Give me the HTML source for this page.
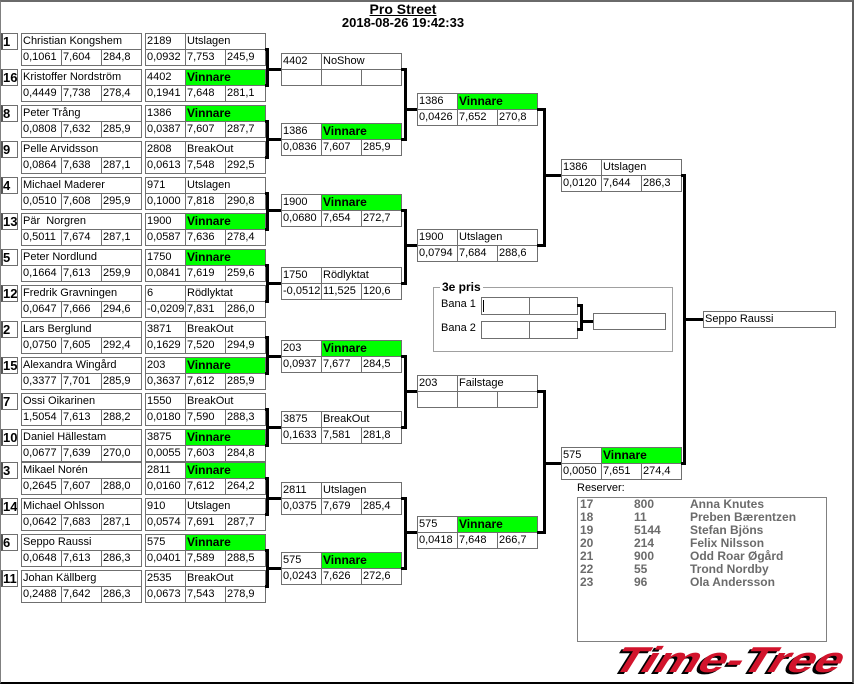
<!DOCTYPE html>
<html><head><meta charset="utf-8">
<style>
html,body{margin:0;padding:0;background:#fff;}
body{width:854px;height:684px;position:relative;overflow:hidden;font-family:"Liberation Sans",Arial,sans-serif;font-size:11px;color:#000;}
.frame{position:absolute;left:0;top:0;width:854px;height:684px;box-sizing:border-box;border-top:2px solid #6a6a6a;border-left:1px solid #808080;border-right:2px solid #5f5f5f;border-bottom:2px solid #000;}
.e,.bx{position:absolute;left:0;width:1px;height:1px;}
.c{position:absolute;box-sizing:border-box;height:17px;top:0;border:1px solid #6f6f6f;background:#fff;line-height:15px;padding-left:1px;white-space:nowrap;overflow:hidden;font-size:11px;}
.s{left:1px;width:17px;border-left:2px solid #555;font-weight:bold;font-size:13px;padding-left:0;}
.nm{left:21px;width:121px;}
.a{width:41px;}.b{width:81px;}
.lo{top:16px;}
.t1{left:21px}.t2{left:61px}.t3{left:101px}
.r1{left:145px}.r2{left:185px}.r3{left:225px}
.k1{left:0}.k2{left:40px}.k3{left:80px}
.g{background:#00ff00;font-weight:bold;font-size:12px;}
.title{position:absolute;left:0;width:806px;text-align:center;font-weight:bold;}
.res{position:absolute;font-weight:bold;font-size:12px;color:#6b6b6b;line-height:13px;}
</style></head><body>
<div class="frame"></div>
<div class="title" style="top:1px;font-size:14px;text-decoration:underline;line-height:16px;">Pro Street</div>
<div class="title" style="top:15px;font-size:13px;line-height:16px;">2018-08-26 19:42:33</div>

<!-- Round 1 -->
<div class="e" style="top:33px">
<div class="c s">1</div><div class="c nm">Christian Kongshem</div>
<div class="c a t1 lo">0,1061</div><div class="c a t2 lo">7,604</div><div class="c a t3 lo">284,8</div>
<div class="c a r1">2189</div><div class="c b r2">Utslagen</div>
<div class="c a r1 lo">0,0932</div><div class="c a r2 lo">7,753</div><div class="c a r3 lo">245,9</div>
</div>
<div class="e" style="top:69px">
<div class="c s">16</div><div class="c nm">Kristoffer Nordström</div>
<div class="c a t1 lo">0,4449</div><div class="c a t2 lo">7,738</div><div class="c a t3 lo">278,4</div>
<div class="c a r1">4402</div><div class="c b r2 g">Vinnare</div>
<div class="c a r1 lo">0,1941</div><div class="c a r2 lo">7,648</div><div class="c a r3 lo">281,1</div>
</div>
<div class="e" style="top:105px">
<div class="c s">8</div><div class="c nm">Peter Trång</div>
<div class="c a t1 lo">0,0808</div><div class="c a t2 lo">7,632</div><div class="c a t3 lo">285,9</div>
<div class="c a r1">1386</div><div class="c b r2 g">Vinnare</div>
<div class="c a r1 lo">0,0387</div><div class="c a r2 lo">7,607</div><div class="c a r3 lo">287,7</div>
</div>
<div class="e" style="top:141px">
<div class="c s">9</div><div class="c nm">Pelle Arvidsson</div>
<div class="c a t1 lo">0,0864</div><div class="c a t2 lo">7,638</div><div class="c a t3 lo">287,1</div>
<div class="c a r1">2808</div><div class="c b r2">BreakOut</div>
<div class="c a r1 lo">0,0613</div><div class="c a r2 lo">7,548</div><div class="c a r3 lo">292,5</div>
</div>
<div class="e" style="top:177px">
<div class="c s">4</div><div class="c nm">Michael Maderer</div>
<div class="c a t1 lo">0,0510</div><div class="c a t2 lo">7,608</div><div class="c a t3 lo">295,9</div>
<div class="c a r1">971</div><div class="c b r2">Utslagen</div>
<div class="c a r1 lo">0,1000</div><div class="c a r2 lo">7,818</div><div class="c a r3 lo">290,8</div>
</div>
<div class="e" style="top:213px">
<div class="c s">13</div><div class="c nm">Pär&nbsp; Norgren</div>
<div class="c a t1 lo">0,5011</div><div class="c a t2 lo">7,674</div><div class="c a t3 lo">287,1</div>
<div class="c a r1">1900</div><div class="c b r2 g">Vinnare</div>
<div class="c a r1 lo">0,0587</div><div class="c a r2 lo">7,636</div><div class="c a r3 lo">278,4</div>
</div>
<div class="e" style="top:249px">
<div class="c s">5</div><div class="c nm">Peter Nordlund</div>
<div class="c a t1 lo">0,1664</div><div class="c a t2 lo">7,613</div><div class="c a t3 lo">259,9</div>
<div class="c a r1">1750</div><div class="c b r2 g">Vinnare</div>
<div class="c a r1 lo">0,0841</div><div class="c a r2 lo">7,619</div><div class="c a r3 lo">259,6</div>
</div>
<div class="e" style="top:285px">
<div class="c s">12</div><div class="c nm">Fredrik Gravningen</div>
<div class="c a t1 lo">0,0647</div><div class="c a t2 lo">7,666</div><div class="c a t3 lo">294,6</div>
<div class="c a r1">6</div><div class="c b r2">Rödlyktat</div>
<div class="c a r1 lo">-0,0209</div><div class="c a r2 lo">7,831</div><div class="c a r3 lo">286,0</div>
</div>
<div class="e" style="top:321px">
<div class="c s">2</div><div class="c nm">Lars Berglund</div>
<div class="c a t1 lo">0,0750</div><div class="c a t2 lo">7,605</div><div class="c a t3 lo">292,4</div>
<div class="c a r1">3871</div><div class="c b r2">BreakOut</div>
<div class="c a r1 lo">0,1629</div><div class="c a r2 lo">7,520</div><div class="c a r3 lo">294,9</div>
</div>
<div class="e" style="top:357px">
<div class="c s">15</div><div class="c nm">Alexandra Wingård</div>
<div class="c a t1 lo">0,3377</div><div class="c a t2 lo">7,701</div><div class="c a t3 lo">285,9</div>
<div class="c a r1">203</div><div class="c b r2 g">Vinnare</div>
<div class="c a r1 lo">0,3637</div><div class="c a r2 lo">7,612</div><div class="c a r3 lo">285,9</div>
</div>
<div class="e" style="top:393px">
<div class="c s">7</div><div class="c nm">Ossi Oikarinen</div>
<div class="c a t1 lo">1,5054</div><div class="c a t2 lo">7,613</div><div class="c a t3 lo">288,2</div>
<div class="c a r1">1550</div><div class="c b r2">BreakOut</div>
<div class="c a r1 lo">0,0180</div><div class="c a r2 lo">7,590</div><div class="c a r3 lo">288,3</div>
</div>
<div class="e" style="top:429px">
<div class="c s">10</div><div class="c nm">Daniel Hällestam</div>
<div class="c a t1 lo">0,0677</div><div class="c a t2 lo">7,639</div><div class="c a t3 lo">270,0</div>
<div class="c a r1">3875</div><div class="c b r2 g">Vinnare</div>
<div class="c a r1 lo">0,0055</div><div class="c a r2 lo">7,603</div><div class="c a r3 lo">284,8</div>
</div>
<div class="e" style="top:462px">
<div class="c s">3</div><div class="c nm">Mikael Norén</div>
<div class="c a t1 lo">0,2645</div><div class="c a t2 lo">7,607</div><div class="c a t3 lo">288,0</div>
<div class="c a r1">2811</div><div class="c b r2 g">Vinnare</div>
<div class="c a r1 lo">0,0160</div><div class="c a r2 lo">7,612</div><div class="c a r3 lo">264,2</div>
</div>
<div class="e" style="top:498px">
<div class="c s">14</div><div class="c nm">Michael Ohlsson</div>
<div class="c a t1 lo">0,0642</div><div class="c a t2 lo">7,683</div><div class="c a t3 lo">287,1</div>
<div class="c a r1">910</div><div class="c b r2">Utslagen</div>
<div class="c a r1 lo">0,0574</div><div class="c a r2 lo">7,691</div><div class="c a r3 lo">287,7</div>
</div>
<div class="e" style="top:534px">
<div class="c s">6</div><div class="c nm">Seppo Raussi</div>
<div class="c a t1 lo">0,0648</div><div class="c a t2 lo">7,613</div><div class="c a t3 lo">286,3</div>
<div class="c a r1">575</div><div class="c b r2 g">Vinnare</div>
<div class="c a r1 lo">0,0401</div><div class="c a r2 lo">7,589</div><div class="c a r3 lo">288,5</div>
</div>
<div class="e" style="top:570px">
<div class="c s">11</div><div class="c nm">Johan Källberg</div>
<div class="c a t1 lo">0,2488</div><div class="c a t2 lo">7,642</div><div class="c a t3 lo">286,3</div>
<div class="c a r1">2535</div><div class="c b r2">BreakOut</div>
<div class="c a r1 lo">0,0673</div><div class="c a r2 lo">7,543</div><div class="c a r3 lo">278,9</div>
</div>

<!-- Round 2 -->
<div class="bx" style="left:281px;top:53px">
<div class="c a k1">4402</div><div class="c b k2">NoShow</div>
<div class="c a k1 lo"></div><div class="c a k2 lo"></div><div class="c a k3 lo"></div>
</div>
<div class="bx" style="left:281px;top:123px">
<div class="c a k1">1386</div><div class="c b k2 g">Vinnare</div>
<div class="c a k1 lo">0,0836</div><div class="c a k2 lo">7,607</div><div class="c a k3 lo">285,9</div>
</div>
<div class="bx" style="left:281px;top:194px">
<div class="c a k1">1900</div><div class="c b k2 g">Vinnare</div>
<div class="c a k1 lo">0,0680</div><div class="c a k2 lo">7,654</div><div class="c a k3 lo">272,7</div>
</div>
<div class="bx" style="left:281px;top:267px">
<div class="c a k1">1750</div><div class="c b k2">Rödlyktat</div>
<div class="c a k1 lo">-0,0512</div><div class="c a k2 lo">11,525</div><div class="c a k3 lo">120,6</div>
</div>
<div class="bx" style="left:281px;top:340px">
<div class="c a k1">203</div><div class="c b k2 g">Vinnare</div>
<div class="c a k1 lo">0,0937</div><div class="c a k2 lo">7,677</div><div class="c a k3 lo">284,5</div>
</div>
<div class="bx" style="left:281px;top:411px">
<div class="c a k1">3875</div><div class="c b k2">BreakOut</div>
<div class="c a k1 lo">0,1633</div><div class="c a k2 lo">7,581</div><div class="c a k3 lo">281,8</div>
</div>
<div class="bx" style="left:281px;top:482px">
<div class="c a k1">2811</div><div class="c b k2">Utslagen</div>
<div class="c a k1 lo">0,0375</div><div class="c a k2 lo">7,679</div><div class="c a k3 lo">285,4</div>
</div>
<div class="bx" style="left:281px;top:552px">
<div class="c a k1">575</div><div class="c b k2 g">Vinnare</div>
<div class="c a k1 lo">0,0243</div><div class="c a k2 lo">7,626</div><div class="c a k3 lo">272,6</div>
</div>

<!-- Round 3 -->
<div class="bx" style="left:417px;top:93px">
<div class="c a k1">1386</div><div class="c b k2 g">Vinnare</div>
<div class="c a k1 lo">0,0426</div><div class="c a k2 lo">7,652</div><div class="c a k3 lo">270,8</div>
</div>
<div class="bx" style="left:417px;top:229px">
<div class="c a k1">1900</div><div class="c b k2">Utslagen</div>
<div class="c a k1 lo">0,0794</div><div class="c a k2 lo">7,684</div><div class="c a k3 lo">288,6</div>
</div>
<div class="bx" style="left:417px;top:375px">
<div class="c a k1">203</div><div class="c b k2">Failstage</div>
<div class="c a k1 lo"></div><div class="c a k2 lo"></div><div class="c a k3 lo"></div>
</div>
<div class="bx" style="left:417px;top:516px">
<div class="c a k1">575</div><div class="c b k2 g">Vinnare</div>
<div class="c a k1 lo">0,0418</div><div class="c a k2 lo">7,648</div><div class="c a k3 lo">266,7</div>
</div>

<!-- Round 4 -->
<div class="bx" style="left:561px;top:159px">
<div class="c a k1">1386</div><div class="c b k2">Utslagen</div>
<div class="c a k1 lo">0,0120</div><div class="c a k2 lo">7,644</div><div class="c a k3 lo">286,3</div>
</div>
<div class="bx" style="left:561px;top:447px">
<div class="c a k1">575</div><div class="c b k2 g">Vinnare</div>
<div class="c a k1 lo">0,0050</div><div class="c a k2 lo">7,651</div><div class="c a k3 lo">274,4</div>
</div>

<!-- Winner -->
<div class="c" style="left:703px;top:311px;width:133px;height:17px;">Seppo Raussi</div>

<!-- 3e pris -->
<div style="position:absolute;left:433px;top:287px;width:240px;height:65px;box-sizing:border-box;border:1px solid #a0a0a0;"></div>
<div style="position:absolute;left:440px;top:280px;padding:0 2px;background:#fff;font-weight:bold;font-size:12px;line-height:15px;">3e pris</div>
<div style="position:absolute;left:441px;top:297px;line-height:15px;font-size:11px;">Bana 1</div>
<div style="position:absolute;left:441px;top:321px;line-height:15px;font-size:11px;">Bana 2</div>
<div class="c" style="left:481px;top:297px;width:49px;height:18px;"></div>
<div class="c" style="left:529px;top:297px;width:49px;height:18px;"></div>
<div class="c" style="left:481px;top:321px;width:49px;height:18px;"></div>
<div class="c" style="left:529px;top:321px;width:49px;height:18px;"></div>
<div style="position:absolute;left:483px;top:300px;width:1px;height:12px;background:#000;"></div>
<div class="c" style="left:593px;top:313px;width:73px;height:17px;"></div>

<!-- Reserves -->
<div style="position:absolute;left:577px;top:481px;font-size:11px;line-height:14px;">Reserver:</div>
<div style="position:absolute;left:577px;top:497px;width:250px;height:145px;box-sizing:border-box;border:1px solid #808080;"></div>
<div class="res" style="left:580px;top:498px;">17<br>18<br>19<br>20<br>21<br>22<br>23</div>
<div class="res" style="left:634px;top:498px;">800<br>11<br>5144<br>214<br>900<br>55<br>96</div>
<div class="res" style="left:690px;top:498px;">Anna Knutes<br>Preben Bærentzen<br>Stefan Bjöns<br>Felix Nilsson<br>Odd Roar Øgård<br>Trond Nordby<br>Ola Andersson</div>

<!-- connectors -->
<svg style="position:absolute;left:0;top:0;" width="854" height="684">
<g fill="none" stroke="#000" stroke-width="3" stroke-linejoin="miter">
<path d="M265 49.5H267.5V85.5H265M267.5 69.5H281"/>
<path d="M265 121.5H267.5V157.5H265M267.5 139.5H281"/>
<path d="M265 193.5H267.5V229.5H265M267.5 210.5H281"/>
<path d="M265 265.5H267.5V301.5H265M267.5 283.5H281"/>
<path d="M265 337.5H267.5V373.5H265M267.5 356.5H281"/>
<path d="M265 409.5H267.5V445.5H265M267.5 427.5H281"/>
<path d="M265 478.5H267.5V514.5H265M267.5 498.5H281"/>
<path d="M265 550.5H267.5V586.5H265M267.5 568.5H281"/>
<path d="M401 69.5H405.5V139.5H401M405.5 109.5H417"/>
<path d="M401 210.5H405.5V283.5H401M405.5 245.5H417"/>
<path d="M401 356.5H405.5V427.5H401M405.5 391.5H417"/>
<path d="M401 498.5H405.5V568.5H401M405.5 532.5H417"/>
<path d="M537 109.5H544.5V245.5H537M544.5 175.5H561"/>
<path d="M537 391.5H544.5V532.5H537M544.5 463.5H561"/>
<path d="M681 175.5H684.5V463.5H681M684.5 319.5H703"/>
<path d="M577 305.5H581.5V329.5H577M581.5 321.5H593"/>
</g>
</svg>

<!-- logo -->
<svg style="position:absolute;left:590px;top:638px;" width="262" height="44">
<g transform="skewX(-32)">
<text x="38" y="36" textLength="228" lengthAdjust="spacingAndGlyphs" font-family="Liberation Sans, Arial, sans-serif" font-weight="bold" font-size="36" fill="#000">Time-Tree</text>
<text x="40" y="34" textLength="228" lengthAdjust="spacingAndGlyphs" font-family="Liberation Sans, Arial, sans-serif" font-weight="bold" font-size="36" fill="#d2142c">Time-Tree</text>
</g>
</svg>
</body></html>
